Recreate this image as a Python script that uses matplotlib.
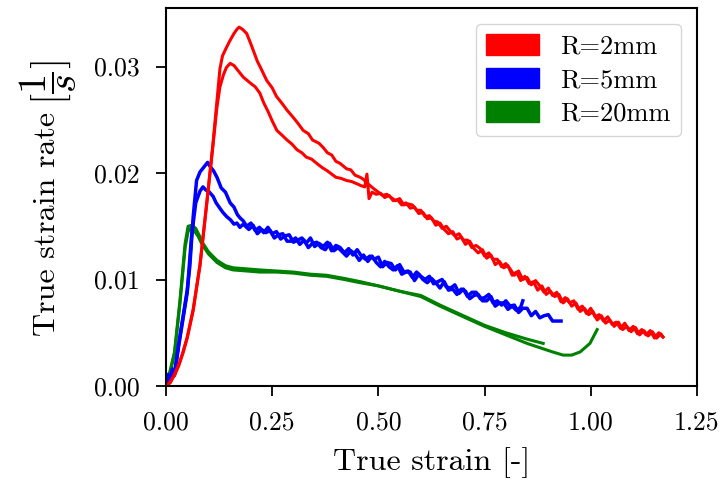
import matplotlib
matplotlib.use("Agg")
import matplotlib.pyplot as plt
from matplotlib.patches import Patch

plt.rcParams['font.family'] = 'serif'
plt.rcParams['font.serif'] = ['cmr10', 'DejaVu Serif']
plt.rcParams['mathtext.fontset'] = 'cm'
plt.rcParams['axes.unicode_minus'] = False
plt.rcParams['axes.formatter.use_mathtext'] = True

# ---------------- data ----------------
labels = ["R=2mm", "R=5mm", "R=20mm"]
colors = ["#ff0000", "#0000ff", "#008000"]

red_a_x = [0, 0.01, 0.02, 0.03, 0.04, 0.05, 0.064, 0.08, 0.097, 0.11, 0.12, 0.127, 0.133,
           0.14, 0.15, 0.16, 0.167, 0.172, 0.18, 0.19, 0.20, 0.215, 0.225, 0.237, 0.25, 0.26,
           0.272, 0.285, 0.30, 0.31, 0.323, 0.335, 0.345, 0.36, 0.37, 0.38, 0.39, 0.40, 0.41,
           0.425, 0.435, 0.445, 0.457, 0.465, 0.475, 0.49,
           0.50, 0.51, 0.52, 0.53, 0.54, 0.55, 0.56, 0.57, 0.58, 0.59, 0.60, 0.61, 0.62, 0.63,
           0.64, 0.65, 0.66, 0.67, 0.68, 0.69, 0.70, 0.71, 0.72, 0.73, 0.74, 0.75, 0.76, 0.77,
           0.78, 0.79, 0.80, 0.81, 0.82, 0.83, 0.84, 0.85, 0.86, 0.87, 0.88, 0.89, 0.90, 0.91,
           0.92, 0.93, 0.94, 0.95, 0.96, 0.97, 0.98, 0.99, 1.00, 1.01, 1.02, 1.03, 1.04, 1.05,
           1.06, 1.07, 1.08, 1.09, 1.10, 1.11, 1.12, 1.13, 1.14, 1.15, 1.16, 1.17]
red_a_y = [0, 0.0004, 0.0010, 0.0019, 0.0031, 0.0045, 0.0071, 0.0113, 0.0175, 0.0225, 0.0268, 0.0298, 0.0310,
           0.0316, 0.0324, 0.0331, 0.0335, 0.0337, 0.0335, 0.0331, 0.0321, 0.0305, 0.0297, 0.0287, 0.0280, 0.0272,
           0.0266, 0.0259, 0.0252, 0.0247, 0.0240, 0.0237, 0.0231, 0.0228, 0.0224, 0.0219, 0.0217, 0.0211, 0.0209,
           0.0204, 0.0203, 0.0198, 0.0196, 0.0194, 0.0190, 0.0185,
           0.0182, 0.0179, 0.0180, 0.0177, 0.0174, 0.0176, 0.0170, 0.0171, 0.0170, 0.0165, 0.0165, 0.0159, 0.0160, 0.0155,
           0.0154, 0.0148, 0.0150, 0.0145, 0.0141, 0.0143, 0.0137, 0.0137, 0.0130, 0.0132, 0.0129, 0.0122, 0.0125, 0.0119,
           0.0119, 0.0112, 0.0115, 0.0110, 0.0104, 0.0108, 0.0100, 0.0102, 0.0095, 0.0099, 0.0094, 0.0088, 0.0092, 0.0085,
           0.0088, 0.0079, 0.0083, 0.0078, 0.0080, 0.0072, 0.0075, 0.0068, 0.0073, 0.0065, 0.0067, 0.0061, 0.0065, 0.0058,
           0.0060, 0.0054, 0.0059, 0.0052, 0.0056, 0.0049, 0.0053, 0.0048, 0.0052, 0.0045, 0.0050, 0.0046]

red_b_x = [0, 0.01, 0.02, 0.03, 0.04, 0.05, 0.064, 0.08, 0.097, 0.11, 0.12, 0.127, 0.135, 0.142,
           0.151, 0.16, 0.17, 0.182, 0.20, 0.21, 0.221, 0.23, 0.24, 0.25, 0.261, 0.272, 0.285, 0.297,
           0.308, 0.32, 0.33, 0.343, 0.355, 0.368, 0.38, 0.39, 0.40, 0.412, 0.425, 0.437, 0.449,
           0.46, 0.468, 0.473, 0.478, 0.485,
           0.495, 0.505, 0.515, 0.525, 0.535, 0.545, 0.555, 0.565, 0.575, 0.585, 0.595, 0.605, 0.615, 0.625,
           0.635, 0.645, 0.655, 0.665, 0.675, 0.685, 0.695, 0.705, 0.715, 0.725, 0.735, 0.745, 0.755, 0.765,
           0.775, 0.785, 0.795, 0.805, 0.815, 0.825, 0.835, 0.845, 0.855, 0.865, 0.875, 0.885, 0.895, 0.905,
           0.915, 0.925, 0.935, 0.945, 0.955, 0.965, 0.975, 0.985, 0.995, 1.005, 1.015, 1.025, 1.035, 1.045,
           1.055, 1.065, 1.075, 1.085, 1.095, 1.105, 1.115, 1.125, 1.135, 1.145, 1.155, 1.165, 1.17]
red_b_y = [0, 0.0003, 0.0011, 0.0020, 0.0032, 0.0046, 0.0072, 0.0114, 0.0176, 0.0224, 0.0262, 0.0281, 0.0292, 0.0299,
           0.0303, 0.0301, 0.0296, 0.0290, 0.0284, 0.0281, 0.0275, 0.0266, 0.0258, 0.0249, 0.0240, 0.0236, 0.0231, 0.0227,
           0.0222, 0.0219, 0.0215, 0.0213, 0.0209, 0.0205, 0.0202, 0.0199, 0.0196, 0.0195, 0.0193, 0.0192, 0.0190,
           0.0188, 0.0187, 0.0199, 0.0176, 0.0182,
           0.0180, 0.0181, 0.0177, 0.0179, 0.0174, 0.0175, 0.0170, 0.0172, 0.0167, 0.0168, 0.0162, 0.0163, 0.0157, 0.0158,
           0.0151, 0.0153, 0.0147, 0.0143, 0.0145, 0.0138, 0.0140, 0.0133, 0.0136, 0.0129, 0.0125, 0.0128, 0.0120, 0.0123,
           0.0114, 0.0117, 0.0111, 0.0113, 0.0104, 0.0107, 0.0099, 0.0103, 0.0096, 0.0098, 0.0090, 0.0094, 0.0086, 0.0089,
           0.0084, 0.0086, 0.0078, 0.0082, 0.0075, 0.0078, 0.0070, 0.0073, 0.0067, 0.0070, 0.0062, 0.0066, 0.0059, 0.0062,
           0.0056, 0.0060, 0.0053, 0.0056, 0.0051, 0.0055, 0.0048, 0.0052, 0.0047, 0.0051, 0.0045, 0.0049, 0.0046]

blue_a_x = [0, 0.005, 0.01, 0.015, 0.02, 0.03, 0.04, 0.05, 0.056, 0.064, 0.072, 0.08, 0.09, 0.098,
            0.104, 0.112, 0.12, 0.13, 0.14, 0.151, 0.16, 0.168, 0.174, 0.182, 0.19,
            0.20, 0.21, 0.22, 0.23, 0.24, 0.25, 0.26, 0.27, 0.28, 0.29, 0.30, 0.31, 0.32, 0.33, 0.34,
            0.35, 0.36, 0.37, 0.38, 0.39, 0.40, 0.41, 0.42, 0.43, 0.44, 0.45, 0.46, 0.47, 0.48, 0.49,
            0.50, 0.51, 0.52, 0.53, 0.54, 0.55, 0.56, 0.57, 0.58, 0.59, 0.60, 0.61, 0.62, 0.63, 0.64,
            0.65, 0.66, 0.67, 0.68, 0.69, 0.70, 0.71, 0.72, 0.73, 0.74, 0.75, 0.76, 0.77, 0.78, 0.79,
            0.80, 0.81, 0.82, 0.83, 0.84, 0.85, 0.86, 0.87, 0.88, 0.89, 0.90, 0.91, 0.92, 0.93]
blue_a_y = [0, 0.0008, 0.0005, 0.0014, 0.0012, 0.0040, 0.0065, 0.0090, 0.0112, 0.0159, 0.0193, 0.0201, 0.0206, 0.0210,
            0.0206, 0.0202, 0.0196, 0.0186, 0.0182, 0.0172, 0.0168, 0.0161, 0.0158, 0.0155, 0.0150,
            0.0153, 0.0146, 0.0149, 0.0144, 0.0149, 0.0143, 0.0145, 0.0138, 0.0141, 0.0142, 0.0135, 0.0137, 0.0139, 0.0134, 0.0139,
            0.0131, 0.0134, 0.0131, 0.0135, 0.0127, 0.0132, 0.0130, 0.0125, 0.0129, 0.0123, 0.0128, 0.0122, 0.0119, 0.0122, 0.0119,
            0.0121, 0.0112, 0.0116, 0.0115, 0.0109, 0.0114, 0.0107, 0.0108, 0.0102, 0.0107, 0.0103, 0.0100, 0.0103, 0.0096, 0.0098,
            0.0100, 0.0093, 0.0092, 0.0095, 0.0087, 0.0091, 0.0084, 0.0088, 0.0088, 0.0082, 0.0083, 0.0086, 0.0078, 0.0080, 0.0076,
            0.0080, 0.0075, 0.0076, 0.0069, 0.0073, 0.0073, 0.0066, 0.0070, 0.0064, 0.0066, 0.0067, 0.0061, 0.0061, 0.0061]

blue_b_x = [0, 0.005, 0.01, 0.015, 0.02, 0.03, 0.04, 0.05, 0.06, 0.07, 0.08, 0.087, 0.094, 0.1,
            0.111, 0.118, 0.125, 0.134, 0.143, 0.152, 0.16, 0.167, 0.174, 0.182,
            0.195, 0.205, 0.215, 0.225, 0.235, 0.245, 0.255, 0.265, 0.275, 0.285, 0.295, 0.305, 0.315, 0.325,
            0.335, 0.345, 0.355, 0.365, 0.375, 0.385, 0.395, 0.405, 0.415, 0.425, 0.435, 0.445, 0.455, 0.465,
            0.475, 0.485, 0.495, 0.505, 0.515, 0.525, 0.535, 0.545, 0.555, 0.565, 0.575, 0.585, 0.595, 0.605,
            0.615, 0.625, 0.635, 0.645, 0.655, 0.665, 0.675, 0.685, 0.695, 0.705, 0.715, 0.725, 0.735, 0.745,
            0.755, 0.765, 0.775, 0.785, 0.795, 0.805, 0.815, 0.825, 0.835, 0.84]
blue_b_y = [0, 0.0011, 0.0004, 0.0016, 0.0010, 0.0038, 0.0063, 0.0088, 0.0140, 0.0172, 0.0183, 0.0187, 0.0184, 0.0183,
            0.0178, 0.0172, 0.0168, 0.0163, 0.0159, 0.0156, 0.0152, 0.0153, 0.0149, 0.0152,
            0.0147, 0.0151, 0.0143, 0.0147, 0.0144, 0.0146, 0.0139, 0.0142, 0.0143, 0.0136, 0.0136, 0.0139, 0.0133, 0.0137,
            0.0130, 0.0134, 0.0135, 0.0130, 0.0128, 0.0134, 0.0127, 0.0130, 0.0126, 0.0122, 0.0127, 0.0124, 0.0118, 0.0123,
            0.0117, 0.0122, 0.0116, 0.0112, 0.0117, 0.0112, 0.0109, 0.0113, 0.0105, 0.0107, 0.0107, 0.0099, 0.0105, 0.0100,
            0.0097, 0.0101, 0.0097, 0.0092, 0.0098, 0.0090, 0.0091, 0.0086, 0.0091, 0.0089, 0.0082, 0.0085, 0.0086, 0.0080,
            0.0080, 0.0084, 0.0075, 0.0078, 0.0078, 0.0072, 0.0075, 0.0071, 0.0074, 0.0080]

green_a_x = [0, 0.01, 0.02, 0.033, 0.045, 0.052, 0.061, 0.07, 0.08, 0.087, 0.10, 0.12, 0.14, 0.158,
             0.19, 0.221, 0.26, 0.30, 0.34, 0.378, 0.42, 0.457, 0.50, 0.55, 0.60, 0.645, 0.70,
             0.75, 0.80, 0.85, 0.88, 0.91, 0.935, 0.955, 0.975, 0.998, 1.015]
green_a_y = [0, 0.0015, 0.0032, 0.0081, 0.0134, 0.0150, 0.0151, 0.0148, 0.0140, 0.0134, 0.0126, 0.0118, 0.0113, 0.0111,
             0.0110, 0.0109, 0.0108, 0.0107, 0.0105, 0.0104, 0.0101, 0.0098, 0.0094, 0.0089, 0.0084, 0.0075, 0.0065,
             0.0056, 0.0048, 0.0040, 0.0036, 0.0032, 0.0029, 0.0029, 0.0032, 0.0040, 0.0053]

green_b_x = [0, 0.01, 0.02, 0.033, 0.045, 0.052, 0.058, 0.066, 0.075, 0.085, 0.10, 0.12, 0.14, 0.158,
             0.19, 0.221, 0.26, 0.30, 0.34, 0.378, 0.42, 0.457, 0.50, 0.55, 0.60, 0.645, 0.70,
             0.75, 0.80, 0.85, 0.888]
green_b_y = [0, 0.0013, 0.0030, 0.0078, 0.0130, 0.0145, 0.0148, 0.0146, 0.0141, 0.0133, 0.0124, 0.0116, 0.0111, 0.0109,
             0.0108, 0.0107, 0.0107, 0.0106, 0.0104, 0.0103, 0.0100, 0.0097, 0.0094, 0.0089, 0.0085, 0.0076, 0.0066,
             0.0057, 0.0050, 0.0044, 0.0040]

xticks = [0.00, 0.25, 0.50, 0.75, 1.00, 1.25]
yticks = [0.00, 0.01, 0.02, 0.03]

# ---------------- plot ----------------
fig = plt.figure(figsize=(7.23, 4.87), dpi=100)
ax = fig.add_axes([0.2296, 0.2074, 0.7344, 0.7762])

ax.plot(green_a_x, green_a_y, color=colors[2], lw=2.2)
ax.plot(green_b_x, green_b_y, color=colors[2], lw=2.2)
ax.plot(blue_a_x, blue_a_y, color=colors[1], lw=2.5)
ax.plot(blue_b_x, blue_b_y, color=colors[1], lw=2.5)
ax.plot(red_a_x, red_a_y, color=colors[0], lw=2.2)
ax.plot(red_b_x, red_b_y, color=colors[0], lw=2.2)

ax.set_xlim(0, 1.25)
ax.set_ylim(0, 0.0355)
ax.set_xticks(xticks)
ax.set_yticks(yticks)
ax.set_xticklabels([f"{t:.2f}" for t in xticks])
ax.set_yticklabels([f"{t:.2f}" for t in yticks])
ax.tick_params(labelsize=18.5, length=7, width=1.3, direction='out')
ax.tick_params(axis='x', pad=11)
ax.tick_params(axis='y', pad=12)
for s in ax.spines.values():
    s.set_linewidth(1.5)

ax.set_xlabel("True strain [-]", fontsize=23, labelpad=9)
fig.text(0.066, 0.541, "True strain rate", rotation=90, ha='center', va='center', fontsize=23)
fig.text(0.066, 0.830, r"$[\dfrac{1}{s}]$", rotation=90, ha='center', va='center', fontsize=29)

handles = [Patch(facecolor=c, edgecolor=c) for c in colors]
leg = ax.legend(handles, labels, loc='upper right', fontsize=19, frameon=True,
                fancybox=True, edgecolor='#cccccc', handlelength=2.0, handleheight=0.8,
                borderaxespad=0.6, labelspacing=0.35)

fig.savefig("out.png", dpi=100)
